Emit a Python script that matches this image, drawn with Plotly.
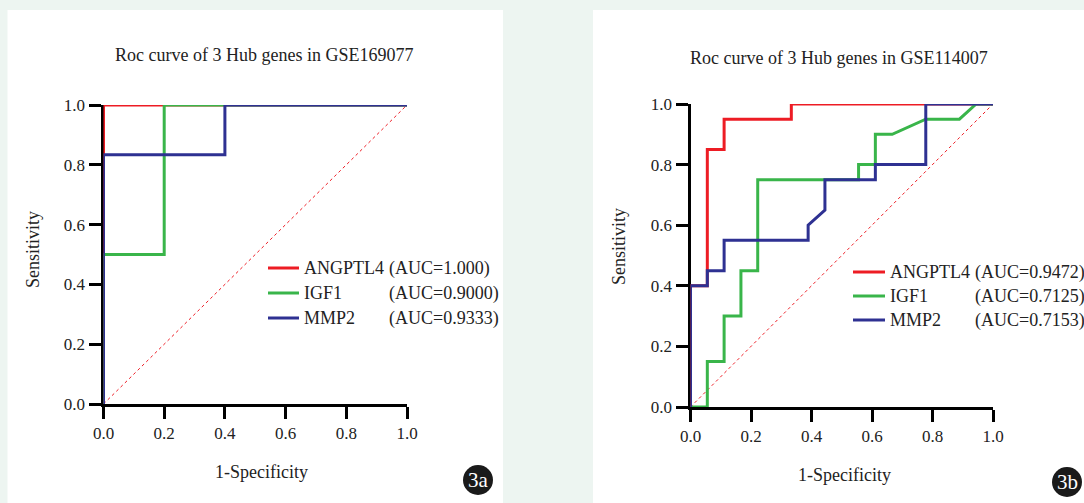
import plotly.graph_objects as go

W, H = 1084, 503

# ---------------- data ----------------
genes = ["ANGPTL4", "IGF1", "MMP2"]
colors = ["#ed1c24", "#39b54a", "#2e3192"]

# Panel a: GSE169077
a_title = "Roc curve of 3 Hub genes in GSE169077"
a_auc = ["(AUC=1.000)", "(AUC=0.9000)", "(AUC=0.9333)"]
a_x = [
    [0, 0, 1],
    [0, 0, 0.2, 0.2, 1],
    [0, 0, 0.4, 0.4, 1],
]
a_y = [
    [0, 1, 1],
    [0, 0.5, 0.5, 1, 1],
    [0, 0.8333, 0.8333, 1, 1],
]

# Panel b: GSE114007
b_title = "Roc curve of 3 Hub genes in GSE114007"
b_auc = ["(AUC=0.9472)", "(AUC=0.7125)", "(AUC=0.7153)"]
b_x = [
    [0, 0, 0.0556, 0.0556, 0.1111, 0.1111, 0.3333, 0.3333, 1],
    [0, 0.0556, 0.0556, 0.1111, 0.1111, 0.1667, 0.1667, 0.2222, 0.2222,
     0.5556, 0.5556, 0.6111, 0.6111, 0.6667, 0.7778, 0.8889, 0.9444, 1],
    [0, 0, 0.0556, 0.0556, 0.1111, 0.1111, 0.3889, 0.3889, 0.4444, 0.4444,
     0.6111, 0.6111, 0.7778, 0.7778, 1],
]
b_y = [
    [0, 0.4, 0.4, 0.85, 0.85, 0.95, 0.95, 1, 1],
    [0, 0, 0.15, 0.15, 0.30, 0.30, 0.45, 0.45, 0.75,
     0.75, 0.80, 0.80, 0.90, 0.90, 0.95, 0.95, 1, 1],
    [0, 0.4, 0.4, 0.45, 0.45, 0.55, 0.55, 0.60, 0.65, 0.75,
     0.75, 0.80, 0.80, 1, 1],
]

tick_vals = [0, 0.2, 0.4, 0.6, 0.8, 1.0]
tick_text = ["0.0", "0.2", "0.4", "0.6", "0.8", "1.0"]
diag = [0, 1]

# ---------------- helpers ----------------
def px(x):
    return x / W

def py(y):
    return 1 - y / H

FONT = "Liberation Serif"
TXT = "#222222"

fig = go.Figure()

panels = [
    dict(xs=a_x, ys=a_y, auc=a_auc, title=a_title, xa="x", ya="y",
         dom_x=(103.5, 407), dom_y=(404, 105),
         rect=(7.5, 10, 503, 503),
         title_pos=(264, 55), ylab_pos=(33, 250), xlab_pos=(261, 472),
         badge=(478, 480, "3a"),
         leg_line=(268, 299), leg_name=302, leg_auc=387, leg_y=[268, 293, 318]),
    dict(xs=b_x, ys=b_y, auc=b_auc, title=b_title, xa="x2", ya="y2",
         dom_x=(690.5, 993), dom_y=(407, 104),
         rect=(593, 10, 1084, 503),
         title_pos=(839, 58), ylab_pos=(619, 247), xlab_pos=(844, 475),
         badge=(1067, 482, "3b"),
         leg_line=(853, 885), leg_name=888, leg_auc=973, leg_y=[272, 296, 320]),
]

shapes = []
annotations = []

for i, p in enumerate(panels):
    x0, y0, x1, y1 = p["rect"]
    shapes.append(dict(type="rect", xref="paper", yref="paper",
                       x0=px(x0), x1=px(x1), y0=py(y1), y1=py(y0),
                       fillcolor="white", line=dict(width=0), layer="below"))
    fig.add_trace(go.Scatter(x=diag, y=diag, mode="lines",
                             line=dict(color="#ed1c24", width=1, dash="dot"),
                             xaxis=p["xa"], yaxis=p["ya"], showlegend=False,
                             hoverinfo="skip", cliponaxis=False))
    for g, c, xs, ys in zip(genes, colors, p["xs"], p["ys"]):
        fig.add_trace(go.Scatter(x=xs, y=ys, mode="lines", name=g,
                                 line=dict(color=c, width=3),
                                 xaxis=p["xa"], yaxis=p["ya"],
                                 showlegend=False, cliponaxis=False))
    tx, ty = p["title_pos"]
    annotations.append(dict(text=p["title"], x=px(tx), y=py(ty), xref="paper", yref="paper",
                            showarrow=False, xanchor="center", yanchor="middle",
                            font=dict(family=FONT, size=18, color=TXT)))
    lx, ly = p["ylab_pos"]
    annotations.append(dict(text="Sensitivity", x=px(lx), y=py(ly), xref="paper", yref="paper",
                            showarrow=False, textangle=-90, xanchor="center", yanchor="middle",
                            font=dict(family=FONT, size=18, color=TXT)))
    lx, ly = p["xlab_pos"]
    annotations.append(dict(text="1-Specificity", x=px(lx), y=py(ly), xref="paper", yref="paper",
                            showarrow=False, xanchor="center", yanchor="middle",
                            font=dict(family=FONT, size=18, color=TXT)))
    bx, by, bt = p["badge"]
    r = 15
    shapes.append(dict(type="circle", xref="paper", yref="paper",
                       x0=px(bx - r), x1=px(bx + r), y0=py(by + r), y1=py(by - r),
                       fillcolor="#1a1a1a", line=dict(width=0)))
    annotations.append(dict(text=bt, x=px(bx), y=py(by), xref="paper", yref="paper",
                            showarrow=False, xanchor="center", yanchor="middle",
                            font=dict(family=FONT, size=21, color="white")))
    l0, l1 = p["leg_line"]
    for g, c, a, yy in zip(genes, colors, p["auc"], p["leg_y"]):
        shapes.append(dict(type="line", xref="paper", yref="paper",
                           x0=px(l0), x1=px(l1), y0=py(yy), y1=py(yy),
                           line=dict(color=c, width=3)))
        annotations.append(dict(text=g, x=px(p["leg_name"]), y=py(yy), xref="paper", yref="paper",
                                showarrow=False, xanchor="left", yanchor="middle",
                                font=dict(family=FONT, size=18, color=TXT)))
        annotations.append(dict(text=a, x=px(p["leg_auc"]), y=py(yy), xref="paper", yref="paper",
                                showarrow=False, xanchor="left", yanchor="middle",
                                font=dict(family=FONT, size=18, color=TXT)))

axis_common = dict(range=[0, 1], tickmode="array", tickvals=tick_vals, ticktext=tick_text,
                   showline=True, linecolor="black", linewidth=3,
                   ticks="outside", ticklen=12, tickwidth=3, tickcolor="black",
                   showgrid=False, zeroline=False, layer="below traces", automargin=False,
                   tickfont=dict(family=FONT, size=17, color=TXT), fixedrange=True)

p1, p2 = panels
fig.update_layout(
    template="none",
    width=W, height=H, autosize=False,
    margin=dict(l=0, r=0, t=0, b=0, pad=0, autoexpand=False),
    paper_bgcolor="#edf5f1", plot_bgcolor="rgba(0,0,0,0)",
    showlegend=False,
    font=dict(family=FONT, color=TXT),
    xaxis=dict(domain=[px(p1["dom_x"][0]), px(p1["dom_x"][1])], anchor="y", **axis_common),
    yaxis=dict(domain=[py(p1["dom_y"][0]), py(p1["dom_y"][1])], anchor="x", **axis_common),
    xaxis2=dict(domain=[px(p2["dom_x"][0]), px(p2["dom_x"][1])], anchor="y2", **axis_common),
    yaxis2=dict(domain=[py(p2["dom_y"][0]), py(p2["dom_y"][1])], anchor="x2", **axis_common),
    shapes=shapes, annotations=annotations,
)

fig.write_html(
    "out.html",
    config={"displayModeBar": False, "responsive": False},
    post_script="document.body.style.margin='0';document.body.style.overflow='hidden';",
)
